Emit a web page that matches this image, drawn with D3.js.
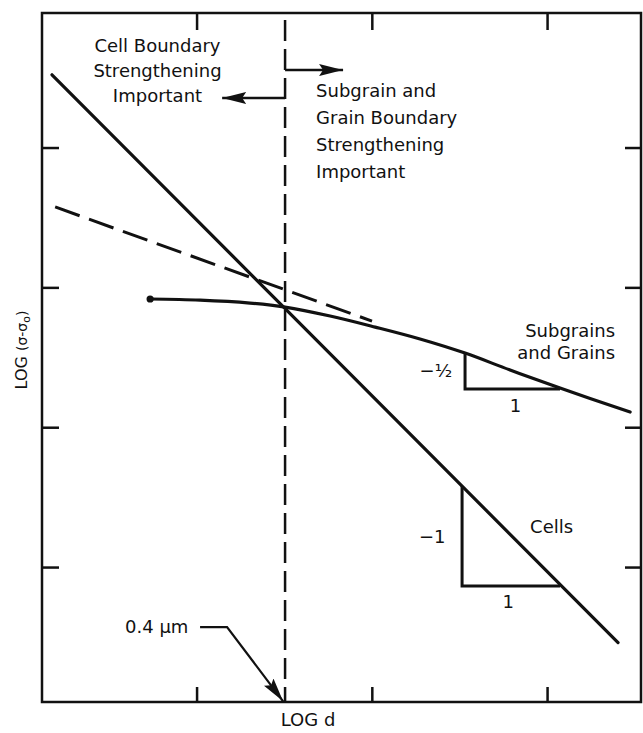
<!DOCTYPE html>
<html>
<head>
<meta charset="utf-8">
<script src="https://cdn.jsdelivr.net/npm/d3@7"></script>
<style>
  body { margin: 0; background: #fff; }
  text { font-family: "DejaVu Sans", sans-serif; fill: #111; }
</style>
</head>
<body>
<svg id="chart" width="643" height="733"></svg>
<script>
// unlabelled tick positions (log d, log(sigma - sigma0))
const xTicks = [1, 2, 3]
const yTicks = [1, 2, 3, 4]

// cells: slope -1 line
const cells = [
  {d: 0.175, s: 4.52},
  {d: 1.494, s: 2.862},
  {d: 3.405, s: 0.46}
]

// subgrains and grains curve
const subgrains = [
  {d: 0.735, s: 2.917},
  {d: 1.020, s: 2.909},
  {d: 1.305, s: 2.888},
  {d: 1.505, s: 2.859},
  {d: 1.762, s: 2.795},
  {d: 2.019, s: 2.716},
  {d: 2.275, s: 2.631},
  {d: 2.532, s: 2.530},
  {d: 2.789, s: 2.409},
  {d: 3.074, s: 2.280},
  {d: 3.474, s: 2.108}
]

// dashed extrapolation of the -1/2 slope
const extrapolation = [
  {d: 0.193, s: 3.575},
  {d: 2.001, s: 2.759}
]

// 0.4 um transition
const critical = [{d: 1.505, s: 4.912}, {d: 1.505, s: 0.035}]

// slope triangles
const subgrainTriangle = [
  {d: 2.532, s: 2.530}, {d: 2.532, s: 2.273}, {d: 3.074, s: 2.273}
]
const cellTriangle = [
  {d: 2.515, s: 1.58}, {d: 2.515, s: 0.864}, {d: 3.074, s: 0.864}
]

// region arrows
const leftArrow = [{d: 1.505, s: 4.354}, {d: 1.146, s: 4.354}]
const rightArrow = [{d: 1.505, s: 4.554}, {d: 1.836, s: 4.554}]
const leader = [{d: 1.020, s: 0.571}, {d: 1.174, s: 0.571}, {d: 1.494, s: 0.04}]

const notes = [
  {lines: ["Cell Boundary", "Strengthening", "Important"], d: 0.777, s: 4.683, anchor: "middle", gap: 25},
  {lines: ["Subgrain and", "Grain Boundary", "Strengthening", "Important"], d: 1.682, s: 4.361, anchor: "start", gap: 27},
  {lines: ["Subgrains", "and Grains"], d: 3.388, s: 2.645, anchor: "end", gap: 22},
  {lines: ["Cells"], d: 2.903, s: 1.243, anchor: "start"},
  {lines: ["\u2212\u00bd"], d: 2.458, s: 2.359, anchor: "end"},
  {lines: ["1"], d: 2.82, s: 2.108, anchor: "middle"},
  {lines: ["\u22121"], d: 2.42, s: 1.172, anchor: "end"},
  {lines: ["1"], d: 2.778, s: 0.707, anchor: "middle"},
  {lines: ["0.4 \u03bcm"], d: 0.592, s: 0.528, anchor: "start"}
]

const svg = d3.select("#chart")

const x = d3.scaleLinear().domain([0.118, 3.536]).range([42, 641])
const y = d3.scaleLinear().domain([0.035, 4.962]).range([702, 13])

const line = d3.line().x(d => x(d.d)).y(d => y(d.s))

const defs = svg.append("defs")
defs.append("marker")
    .attr("id", "head")
    .attr("viewBox", "0 0 24 12")
    .attr("refX", 24).attr("refY", 6)
    .attr("markerWidth", 24).attr("markerHeight", 12)
    .attr("markerUnits", "userSpaceOnUse")
    .attr("orient", "auto")
  .append("path")
    .attr("d", "M0,0 L24,6 L0,12 L4,6 Z")
    .attr("fill", "#111")

// frame
svg.append("rect")
    .attr("x", x.range()[0]).attr("y", y.range()[1])
    .attr("width", x.range()[1] - x.range()[0])
    .attr("height", y.range()[0] - y.range()[1])
    .attr("fill", "none").attr("stroke", "#111").attr("stroke-width", 2.5)

// ticks, no labels
const tickStyle = g => {
    g.select(".domain").remove()
    g.selectAll(".tick line").attr("stroke", "#111").attr("stroke-width", 2.5)
}
svg.append("g").attr("transform", `translate(0,${y.range()[0]})`)
    .call(d3.axisBottom(x).tickValues(xTicks).tickFormat("").tickSizeInner(-15).tickSizeOuter(0))
    .call(tickStyle)
svg.append("g").attr("transform", `translate(0,${y.range()[1]})`)
    .call(d3.axisTop(x).tickValues(xTicks).tickFormat("").tickSizeInner(-17).tickSizeOuter(0))
    .call(tickStyle)
svg.append("g").attr("transform", `translate(${x.range()[0]},0)`)
    .call(d3.axisLeft(y).tickValues(yTicks).tickFormat("").tickSizeInner(-17).tickSizeOuter(0))
    .call(tickStyle)
svg.append("g").attr("transform", `translate(${x.range()[1]},0)`)
    .call(d3.axisRight(y).tickValues(yTicks).tickFormat("").tickSizeInner(-16).tickSizeOuter(0))
    .call(tickStyle)

// axis titles
svg.append("text")
    .attr("x", x(1.636)).attr("y", 726)
    .attr("text-anchor", "middle").attr("font-size", 18)
    .text("LOG d")

const yTitle = svg.append("text")
    .attr("transform", `translate(27,${y(2.552)}) rotate(-90)`)
    .attr("text-anchor", "middle").attr("font-size", 16)
yTitle.append("tspan").text("LOG ")
yTitle.append("tspan").attr("font-size", 14).text("(\u03c3-\u03c3")
yTitle.append("tspan").attr("font-size", 11).attr("dy", 3).text("o")
yTitle.append("tspan").attr("font-size", 14).attr("dy", -3).text(")")

// vertical transition line
svg.append("path").datum(critical)
    .attr("d", line)
    .attr("fill", "none").attr("stroke", "#111")
    .attr("stroke-width", 2.5).attr("stroke-dasharray", "21,8")

// dashed extrapolation
svg.append("path").datum(extrapolation)
    .attr("d", line)
    .attr("fill", "none").attr("stroke", "#111")
    .attr("stroke-width", 3).attr("stroke-dasharray", "26,10")

// cells line
svg.append("path").datum(cells)
    .attr("d", line)
    .attr("fill", "none").attr("stroke", "#111")
    .attr("stroke-width", 3.2).attr("stroke-linecap", "round")

// subgrain curve
svg.append("path").datum(subgrains)
    .attr("d", line.curve(d3.curveCatmullRom))
    .attr("fill", "none").attr("stroke", "#111")
    .attr("stroke-width", 3.2).attr("stroke-linecap", "round")
line.curve(d3.curveLinear)

svg.append("circle")
    .attr("cx", x(subgrains[0].d)).attr("cy", y(subgrains[0].s))
    .attr("r", 3.6).attr("fill", "#111")

// slope triangles
svg.selectAll(".tri")
    .data([subgrainTriangle, cellTriangle])
    .join("path")
    .attr("class", "tri")
    .attr("d", line)
    .attr("fill", "none").attr("stroke", "#111")
    .attr("stroke-width", 3).attr("stroke-linejoin", "miter")

// arrows
svg.selectAll(".arrow")
    .data([leftArrow, rightArrow])
    .join("path")
    .attr("class", "arrow")
    .attr("d", line)
    .attr("fill", "none").attr("stroke", "#111").attr("stroke-width", 2.5)
    .attr("marker-end", "url(#head)")

svg.append("path").datum(leader)
    .attr("d", line)
    .attr("fill", "none").attr("stroke", "#111").attr("stroke-width", 2.2)
    .attr("marker-end", "url(#head)")

// annotations
notes.forEach(n => {
    const t = svg.append("text")
        .attr("x", x(n.d)).attr("y", y(n.s))
        .attr("text-anchor", n.anchor).attr("font-size", 18)
    n.lines.forEach((l, i) => {
        t.append("tspan")
            .attr("x", x(n.d))
            .attr("dy", i === 0 ? 0 : n.gap)
            .text(l)
    })
})
</script>
</body>
</html>
